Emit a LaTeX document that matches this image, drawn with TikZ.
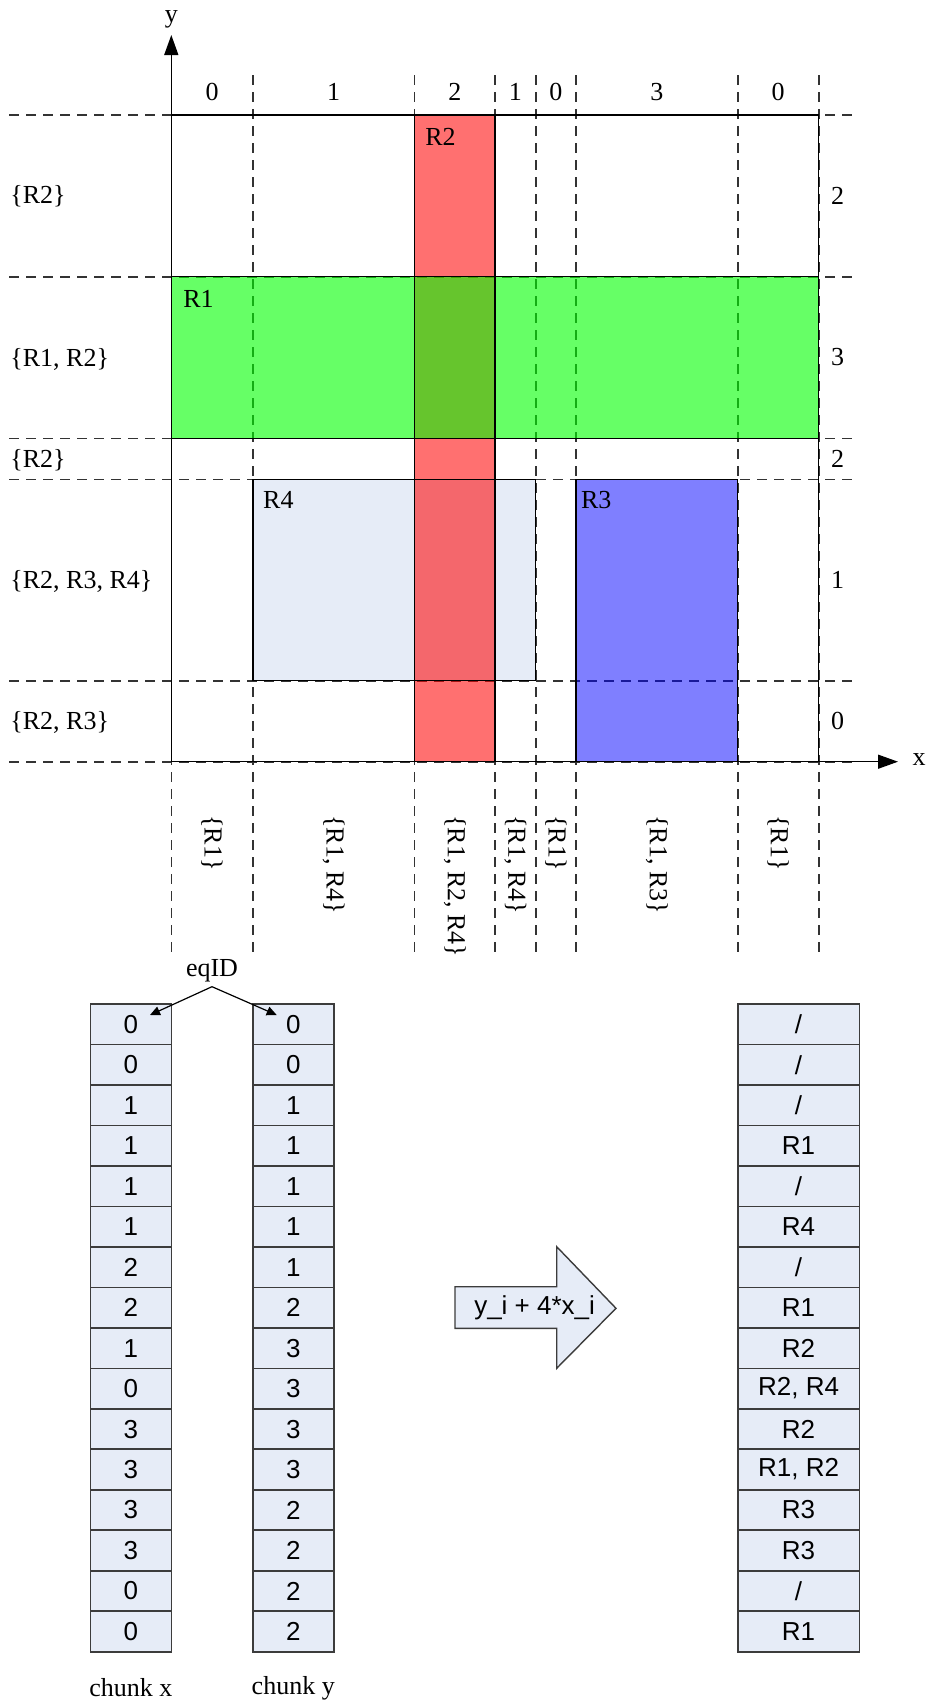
\documentclass[tikz,border=0pt]{standalone}
\usepackage{fontspec}
\setmainfont{Liberation Serif}
\newfontfamily\cellfont{Liberation Sans}
\usetikzlibrary{arrows.meta,positioning,calc}
\definecolor{cRed}{HTML}{FF0000}
\definecolor{cGreen}{HTML}{00FF00}
\definecolor{cBlue}{HTML}{0000FF}
\definecolor{cCell}{HTML}{E6ECF7}
\definecolor{cInk}{HTML}{000000}
\definecolor{cEdge}{HTML}{3C3C3C}

\begin{document}
\begin{tikzpicture}[
  x=0.5pt,y=-0.5pt,
  font=\fontsize{13}{15}\selectfont,
  grid/.style={line width=0.8pt,color=cInk!80,dash pattern=on 5pt off 3.5pt},
  edge/.style={line width=0.7pt,color=cInk},
  ax/.style={-{Triangle[length=10pt,width=7pt]},line width=0.7pt,color=cInk},
  ar/.style={-{Triangle[length=5pt,width=4.5pt]},line width=0.6pt,color=cInk},
  lbl/.style={inner sep=0pt},
  cell/.style={draw=cEdge,line width=0.8pt,fill=cCell,inner sep=0pt,
    minimum width=40.5pt,minimum height=20.24pt,
    font=\cellfont\fontsize{13}{15}\selectfont},
]
\useasboundingbox (0,0) rectangle (926,1704);

% ============================================================ A. the plane
% region fills (R4 opaque, the others see-through)
\fill[cCell] (252.8,479.3) rectangle (535.7,680.7);
% dashed grid of the chunk boundaries
\foreach \gx in {171.3,252.8,414.6,495,535.7,576,737.7,818.7}
  \draw[grid] (\gx,75) -- (\gx,956.7);
\foreach \gy in {115,276.7,438.3,479.3,680.7,761.7}
  \draw[grid] (9,\gy) -- (853,\gy);
\fill[cRed,fill opacity=0.56] (414.6,115) rectangle (495,761.7);
\fill[cBlue,fill opacity=0.5] (576,479.3) rectangle (737.7,761.7);
\fill[cGreen,fill opacity=0.6] (171.3,276.7) rectangle (818.7,438.3);
% region outlines
\draw[edge] (171.3,115) rectangle (818.7,761.7);
\draw[edge] (171.3,276.7) rectangle (818.7,438.3);
\draw[edge] (414.6,115) rectangle (495,761.7);
\draw[edge] (252.8,479.3) rectangle (535.7,680.7);
\draw[edge] (576,479.3) rectangle (737.7,761.7);
% axes
\draw[ax] (171.3,761.7) -- (171.3,35);
\draw[ax] (171.3,761.7) -- (898,761.7);
\node[lbl] (ylab) at (171.3,19) {y};
\node[lbl] (xlab) at (919,760) {x};

% region names
\node[lbl,anchor=west] (nR2) at (425,136.7) {R2};
\node[lbl,anchor=west] (nR1) at (183,299) {R1};
\node[lbl,anchor=west] (nR4) at (262.8,500) {R4};
\node[lbl,anchor=west] (nR3) at (580.6,500) {R3};

% ------------------------------------------------- chunk ids along x
\foreach \cx/\t [count=\k] in {212/0,333.7/1,454.8/2,515.4/1,555.9/0,656.9/3,778.2/0}
  \node[lbl] (cid\k) at (\cx,92) {\t};
% ------------------------------------------------- chunk ids along y
\foreach \cy/\t [count=\k] in {195.8/2,357.5/3,458.8/2,580/1,721/0}
  \node[lbl] (rid\k) at (837.6,\cy) {\t};
% ------------------------------------------------- region sets per row
\node[lbl,anchor=west] (rs1) at (10,196) {\{R2\}};
\node[lbl,anchor=west] (rs2) at (10,359) {\{R1, R2\}};
\node[lbl,anchor=west] (rs3) at (10,460) {\{R2\}};
\node[lbl,anchor=west] (rs4) at (10,581) {\{R2, R3, R4\}};
\node[lbl,anchor=west] (rs5) at (10,722) {\{R2, R3\}};
% ------------------------------------------------- region sets per column
\foreach \cx/\t [count=\k] in {212/{\{R1\}},333.7/{\{R1, R4\}},454.8/{\{R1, R2, R4\}},
    515.4/{\{R1, R4\}},555.9/{\{R1\}},656.9/{\{R1, R3\}},778.2/{\{R1\}}}
  \node[lbl,anchor=west,rotate=-90] (cs\k) at (\cx,815) {\t};

% ============================================================ B. the chunk arrays
\foreach \v [count=\i] in {0,0,1,1,1,1,2,2,1,0,3,3,3,3,0,0}
  \node[cell] (cx\i) at (130.85,{1004+(\i-0.5)*40.48}) {\v};
\foreach \v [count=\i] in {0,0,1,1,1,1,1,2,3,3,3,3,2,2,2,2}
  \node[cell] (cy\i) at (293.25,{1004+(\i-0.5)*40.48}) {\v};
\foreach \v [count=\i] in {{/},{/},{/},R1,{/},R4,{/},R1,R2,{R2, R4},R2,{R1, R2},R3,R3,{/},R1}
  \node[cell,minimum width=60.85pt] (res\i) at (798.55,{1004+(\i-0.5)*40.48}) {\v};
\node[lbl] (chx) at (130.85,1688) {chunk x};
\node[lbl] (chy) at (293.25,1688) {chunk y};

% eqID pointing at both arrays
\node[inner sep=2pt] (eqid) at (212,971) {eqID};
\coordinate (eqL) at (150,1015);
\coordinate (eqR) at (276.7,1015);
\draw[ar] (eqid.south) -- (eqL);
\draw[ar] (eqid.south) -- (eqR);

% the fat arrow with the key formula
\draw[draw=cEdge,line width=0.7pt,fill=cCell]
  (455,1286.7) -- (556.7,1286.7) -- (556.7,1246.7) -- (616,1308.3) --
  (556.7,1368.3) -- (556.7,1328.3) -- (455,1328.3) -- cycle;
\node[lbl,font=\cellfont\fontsize{13}{15}\selectfont] (key) at (534.6,1308) {y\_i + 4*x\_i};

\end{tikzpicture}
\end{document}
